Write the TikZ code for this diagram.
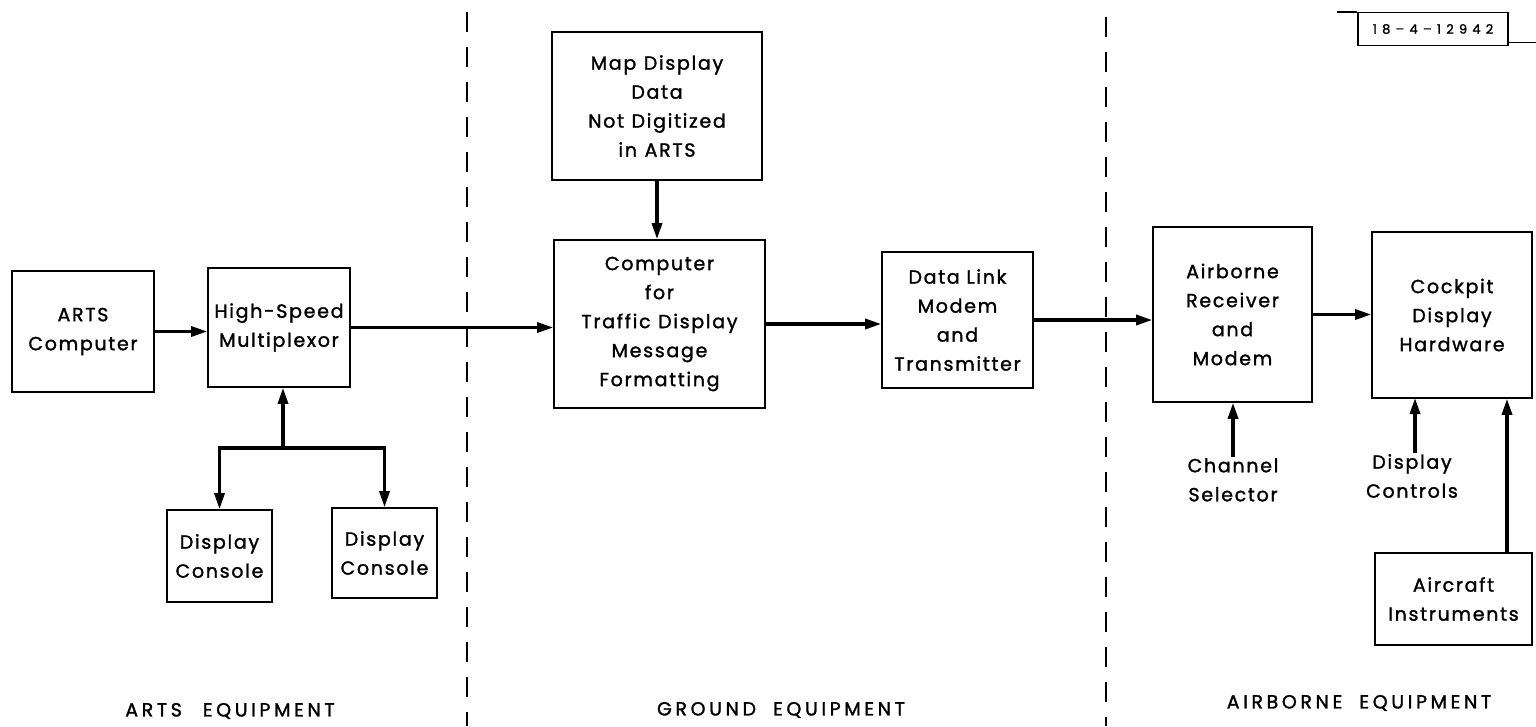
\documentclass[tikz,border=0pt]{standalone}
\usepackage{fontspec}
\setmainfont{Poppins}[FakeBold=1.5]
\newfontfamily\grpfont{Poppins}[FakeBold=1.5,LetterSpace=19]
\newfontfamily\tagfont{Poppins}[FakeBold=1.5,LetterSpace=40]
\newfontfamily\boxfont{Poppins}[FakeBold=1.5,LetterSpace=9]
\usetikzlibrary{arrows.meta,calc}
\begin{document}
\begin{tikzpicture}[x=1pt,y=-1pt,
  box/.style={draw, line width=1.6pt, inner sep=0pt, align=center,
    font=\boxfont\fontsize{19}{29}\selectfont},
  lbl/.style={inner sep=1pt, align=center, font=\boxfont\fontsize{19}{29}\selectfont},
  arr/.style={line width=3.2pt, -{Triangle[length=16pt,width=10pt]}},
  divider/.style={line width=1.8pt, dash pattern=on 20pt off 15pt},
  group/.style={font=\grpfont\fontsize{19}{20}\selectfont}]
\useasboundingbox (0,0) rectangle (1536,726);
% boxes
\node[box, minimum width=142pt, minimum height=121pt] (arts) at (83,331.5) {ARTS\\Computer};
\node[box, minimum width=142pt, minimum height=119pt] (hsm) at (279,327.5) {High-Speed\\Multiplexor};
\node[box, minimum width=105pt, minimum height=92pt] (dc1) at (219.5,556) {Display\\Console};
\node[box, minimum width=105pt, minimum height=90pt] (dc2) at (384.5,553) {Display\\Console};
\node[box, minimum width=210pt, minimum height=148pt] (map) at (657,106) {Map\hspace{0.4em}Display\\Data\\Not\hspace{0.4em}Digitized\\in\hspace{0.4em}ARTS};
\node[box, minimum width=211pt, minimum height=168pt] (comp) at (659.5,324) {Computer\\for\\Traffic\hspace{0.4em}Display\\Message\\Formatting};
\node[box, minimum width=151pt, minimum height=136pt] (dl) at (957.5,320) {Data Link\\Modem\\and\\Transmitter};
\node[box, minimum width=159pt, minimum height=175pt] (air) at (1232.5,314.5) {Airborne\\Receiver\\and\\Modem};
\node[box, minimum width=160pt, minimum height=166pt] (cock) at (1452,315) {Cockpit\\Display\\Hardware};
\node[box, minimum width=157pt, minimum height=92pt] (inst) at (1453.5,599) {Aircraft\\Instruments};
\node[lbl, anchor=north] (chan) at (1233,457) {Channel\\Selector};
\node[lbl, anchor=north] (dctl) at (1412,453) {Display\\Controls};
% connectors
\draw[arr] (arts.east) -- (arts.east -| hsm.west);
\draw[arr] (hsm.east) -- (hsm.east -| comp.west);
\draw[arr] (map.south) -- (map.south |- comp.north);
\draw[arr] (comp.east) -- (comp.east -| dl.west);
\draw[arr] (dl.east) -- (dl.east -| air.west);
\draw[arr] (air.east) -- (air.east -| cock.west);
\coordinate (j) at (283,448);
\draw[arr] (j) -- (j |- hsm.south);
\draw[arr] (j) -| (dc1.north);
\draw[arr] (j) -| (dc2.north);
\draw[arr] (chan.north) -- (chan.north |- air.south);
\draw[arr] (1415,453) -- (1415,398);
\coordinate (ia) at (1507,553);
\draw[arr] (ia) -- (ia |- cock.south);
% dividers
\draw[divider] (467,12) -- (467,726);
\draw[divider] (1106,17) -- (1106,726);
% group labels
\node[group] (g1) at (230,711) {ARTS\hspace{1.1em}EQUIPMENT};
\node[group] (g2) at (781,710) {GROUND\hspace{0.9em}EQUIPMENT};
\node[group] (g3) at (1359,703) {AIRBORNE\hspace{0.9em}EQUIPMENT};
% tag
\node[draw, line width=1.4pt, minimum width=150pt, minimum height=33pt, inner sep=0pt,
  font=\tagfont\fontsize{13}{15}\selectfont] (tag) at (1433,29) {18–4–12942};
\draw[line width=1.4pt] (tag.north west) -- ++(-20,0);
\draw[line width=1.4pt] ($(tag.south east)+(0,-4)$) -- ++(30,0);
\end{tikzpicture}
\end{document}
